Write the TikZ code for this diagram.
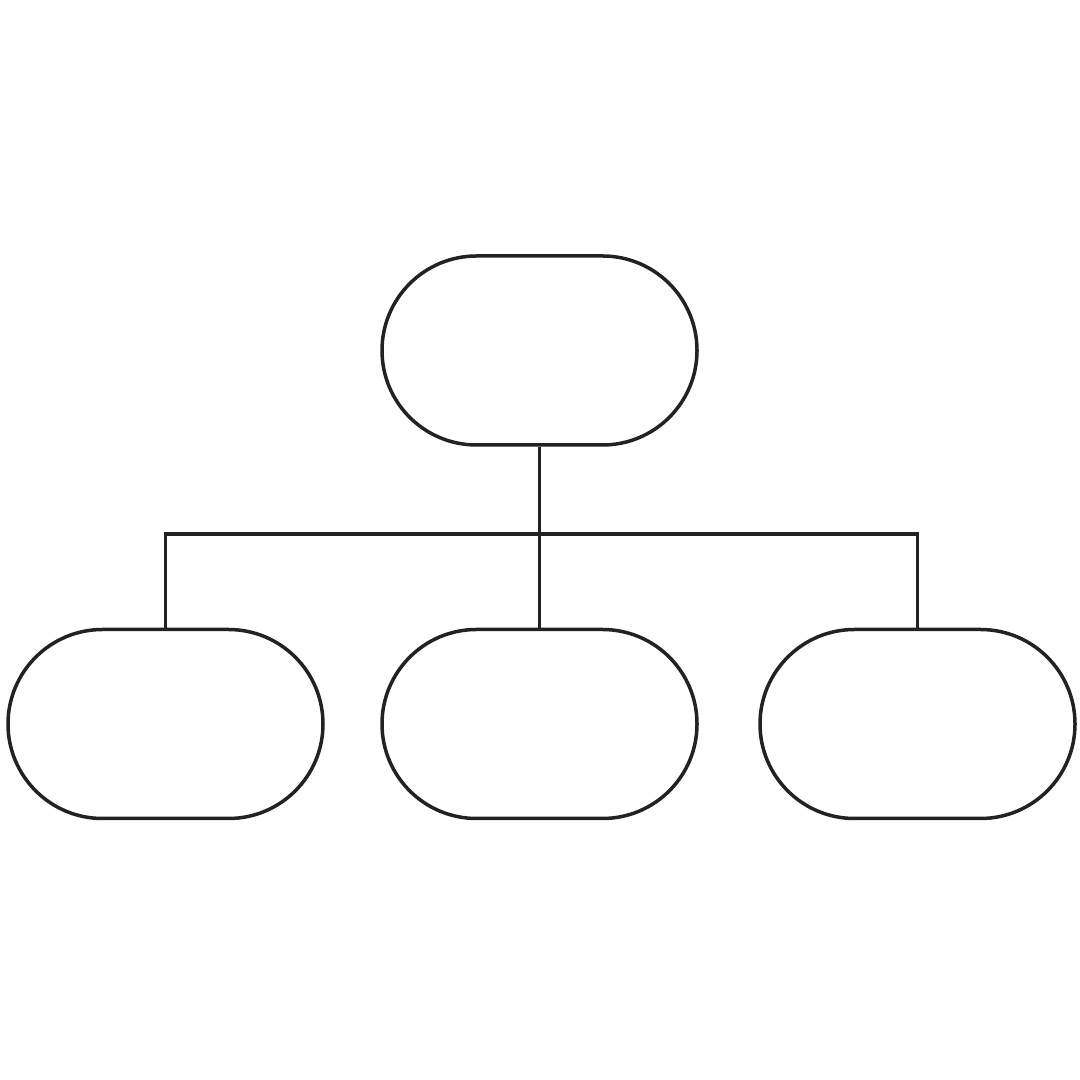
\documentclass[tikz,border=0pt]{standalone}
\usepackage{tikz,color}
\usetikzlibrary{positioning}
\definecolor{darkline}{RGB}{34,34,34}

\begin{document}
\begin{tikzpicture}[
    pill/.style={draw=darkline,line width=0.035cm,inner sep=0pt,
        minimum width=3.15cm,minimum height=1.89cm,rounded corners=0.945cm},
    link/.style={draw=darkline,line width=0.035cm}]
\useasboundingbox (0,0) rectangle (10.8,10.8);
\node[pill] (top) at (5.395,7.295) {};
\node[pill,below of=top,node distance=3.735cm] (mid) {};
\node[pill,left of=mid,node distance=3.74cm] (left) {};
\node[pill,right of=mid,node distance=3.78cm] (right) {};
\coordinate (bar) at (0,5.46);

\draw[link] (top.south) -- (mid.north);
\draw[link] (left.north) -- (left.north |- bar) -- (right.north |- bar) -- (right.north);
\end{tikzpicture}
\end{document}
